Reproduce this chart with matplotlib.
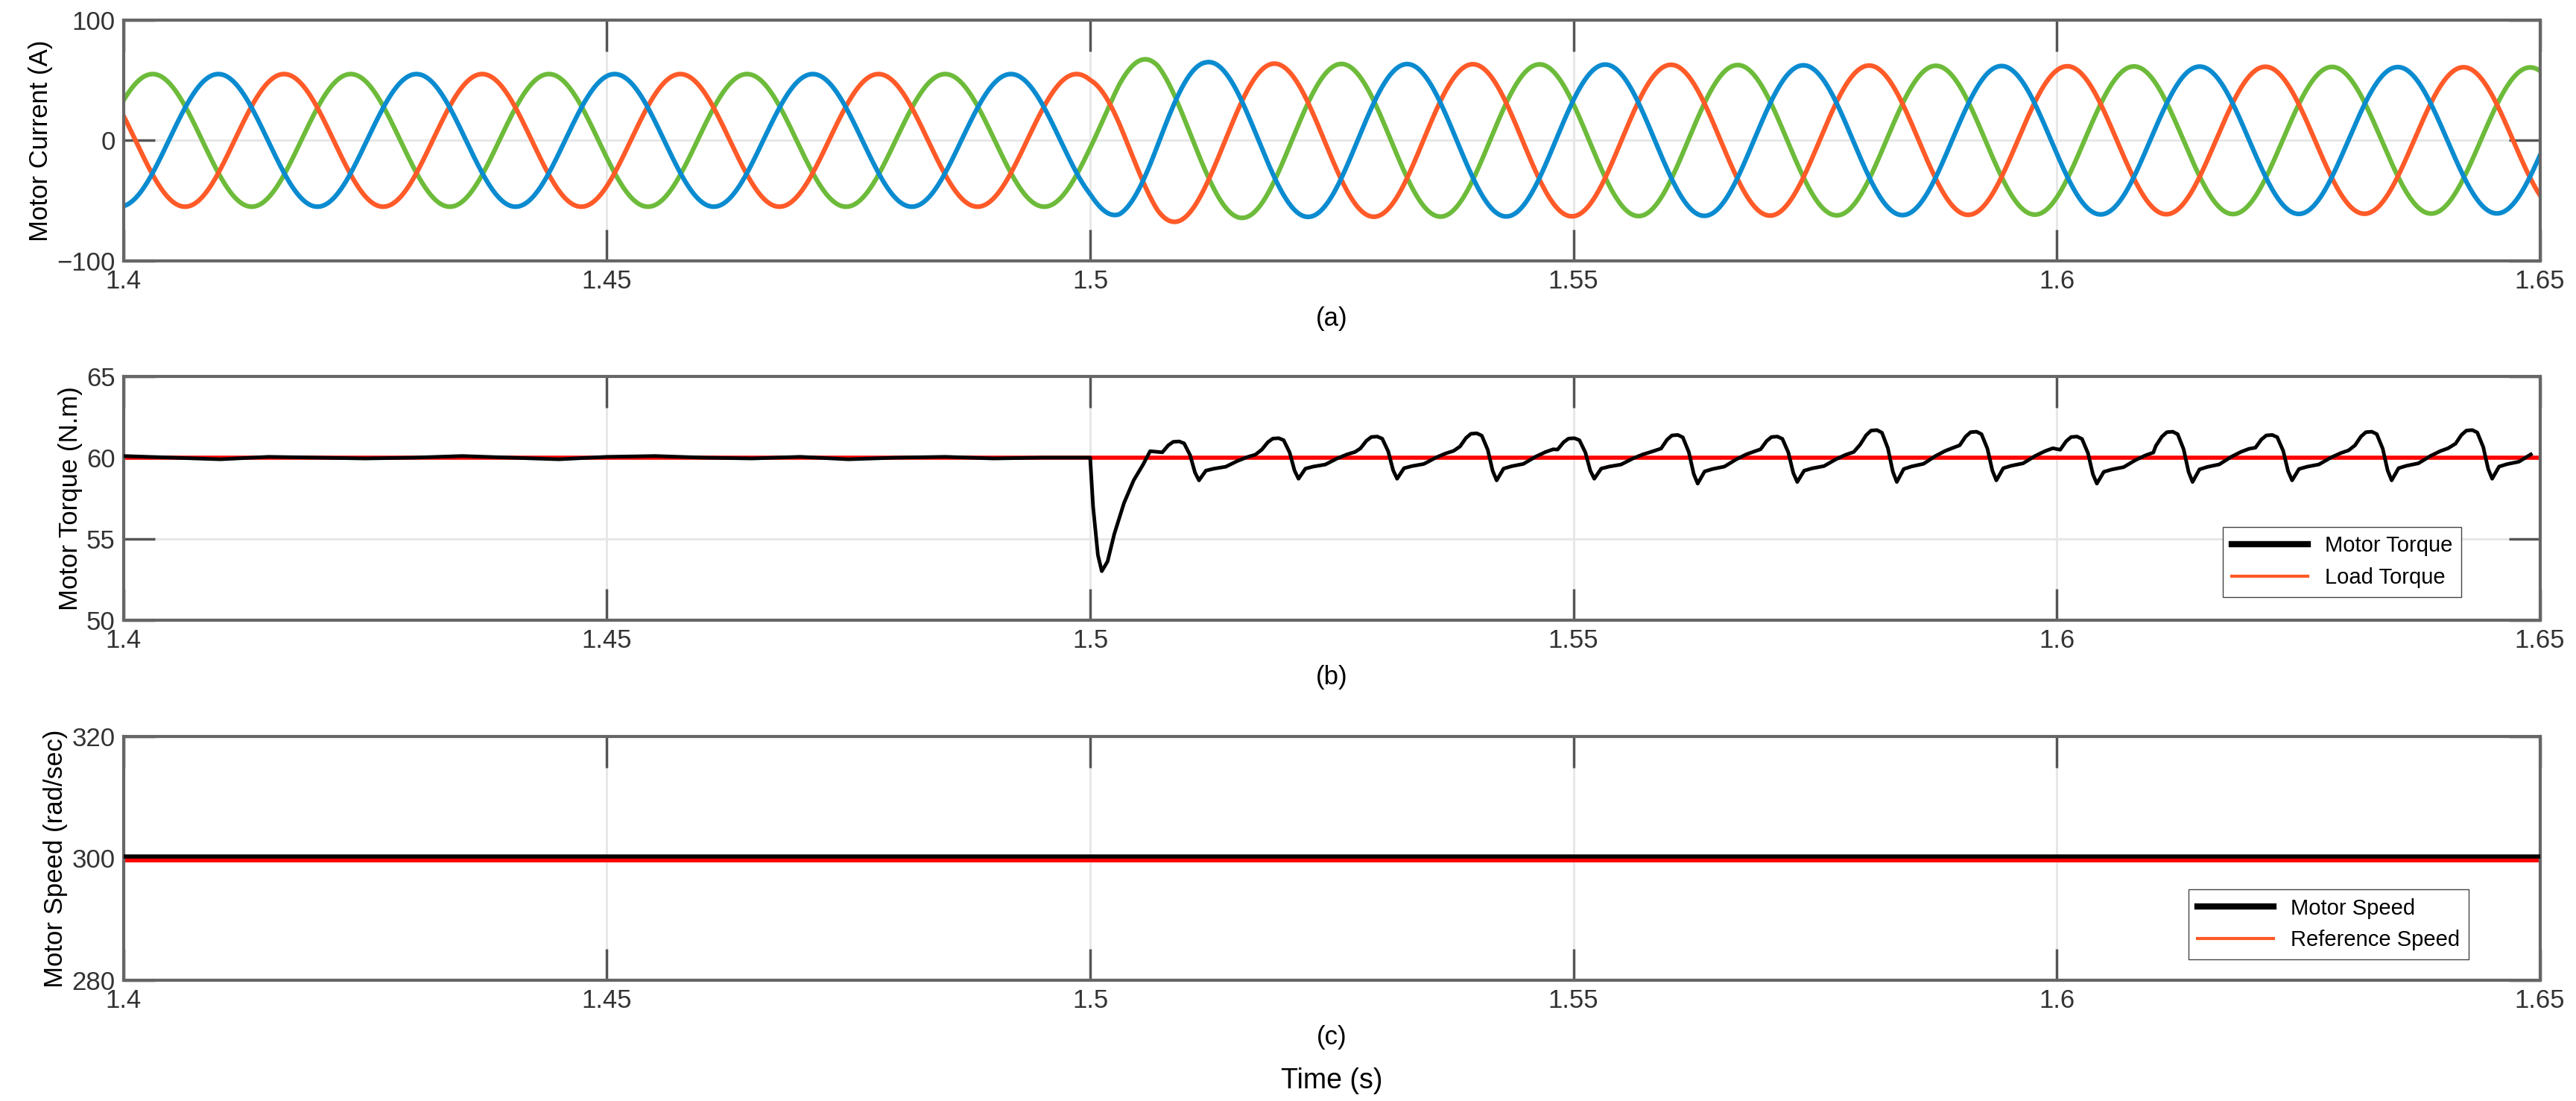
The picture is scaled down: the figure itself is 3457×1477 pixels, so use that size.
import matplotlib.pyplot as plt
import numpy as np

plt.rcParams['font.family'] = ['Liberation Sans', 'DejaVu Sans']

# ---- data ----
t_start, t_end = 1.4, 1.65
xticks = [1.4, 1.45, 1.5, 1.55, 1.6, 1.65]

# phase currents: period and peak times
cur_period = 0.0205
cur_peak_time = {'blue': 1.4098, 'orange': 1.4166, 'green': 1.4030}
cur_colors = {'blue': '#0a8bd0', 'orange': '#ff5a28', 'green': '#6dbb3a'}
# amplitude envelope (time, amplitude A)
env_t = [1.400, 1.500, 1.503, 1.507, 1.512, 1.520, 1.550, 1.600, 1.650]
env_a = [55.0, 55.0, 64.0, 69.0, 65.0, 63.5, 63.0, 61.5, 60.5]

# torque before the step (small ripple around 60)
tq_pre_t = [1.400, 1.405, 1.410, 1.415, 1.420, 1.425, 1.430, 1.435, 1.440, 1.445,
            1.450, 1.455, 1.460, 1.465, 1.470, 1.475, 1.480, 1.485, 1.490, 1.495, 1.4999]
tq_pre_v = [60.1, 60.0, 59.9, 60.05, 60.0, 59.95, 60.0, 60.1, 60.0, 59.9,
            60.05, 60.1, 60.0, 59.95, 60.05, 59.9, 60.0, 60.05, 59.95, 60.0, 60.0]
# torque dip right after the load step
tq_dip_t = [1.5000, 1.5003, 1.5008, 1.5012, 1.5018, 1.5025, 1.5035, 1.5045, 1.5055, 1.5062]
tq_dip_v = [60.0, 57.0, 54.0, 53.0, 53.6, 55.3, 57.2, 58.6, 59.6, 60.4]
# ripple cycles after the step: peak times and peak / trough values
tq_cycle_period = 0.01025
tq_peak_t = [1.5089, 1.5192, 1.5294, 1.5397, 1.5498, 1.5605, 1.5708, 1.5811,
             1.5914, 1.6018, 1.6117, 1.6220, 1.6323, 1.6427]
tq_peak_v = [61.0, 61.2, 61.3, 61.5, 61.2, 61.4, 61.3, 61.7, 61.6, 61.3, 61.6, 61.4, 61.6, 61.7]
tq_trough_v = [58.6, 58.7, 58.7, 58.6, 58.7, 58.4, 58.5, 58.5, 58.6, 58.4, 58.5, 58.6, 58.6, 58.7]
# one ripple cycle shape: phase offset (fraction of period) and level (0=trough, 1=peak)
shape_phase = [-0.14, -0.08, -0.03, 0.03, 0.08, 0.14, 0.19, 0.23, 0.30, 0.38, 0.50, 0.62, 0.72, 0.80]
shape_level = [0.72, 0.90, 0.99, 1.0, 0.95, 0.65, 0.20, 0.0, 0.25, 0.30, 0.35, 0.50, 0.60, 0.66]
load_torque = 60.0

speed_motor = 300.3
speed_ref = 299.9

# ---- figure ----
fig = plt.figure(figsize=(34.57, 14.77), dpi=100)
L, W = 0.048, 0.938
ax_a = fig.add_axes([L, 0.763, W, 0.219])
ax_b = fig.add_axes([L, 0.437, W, 0.221])
ax_c = fig.add_axes([L, 0.110, W, 0.221])

# (a) currents
t = np.linspace(t_start, t_end, 6000)
amp = np.interp(t, env_t, env_a)
for name in ['green', 'orange', 'blue']:
    y = amp * np.cos(2 * np.pi * (t - cur_peak_time[name]) / cur_period)
    ax_a.plot(t, y, color=cur_colors[name], lw=4.5)
ax_a.set_ylim(-100, 100)
ax_a.set_yticks([-100, 0, 100])
ax_a.set_ylabel('Motor Current (A)', fontsize=25)
ax_a.set_xlabel('(a)', fontsize=25, labelpad=12)

# (b) torque
tq_t = list(tq_pre_t) + list(tq_dip_t)
tq_v = list(tq_pre_v) + list(tq_dip_v)
for pt, pv, tv in zip(tq_peak_t, tq_peak_v, tq_trough_v):
    for ph, lv in zip(shape_phase, shape_level):
        tt = pt + ph * tq_cycle_period
        if tt > tq_t[-1] and tt <= t_end:
            tq_t.append(tt)
            tq_v.append(tv + lv * (pv - tv))
ax_b.plot([t_start, t_end], [load_torque, load_torque], color='red', lw=4, zorder=2)
ax_b.plot(tq_t, tq_v, color='black', lw=3.5, zorder=3)
ax_b.set_ylim(50, 65)
ax_b.set_yticks([50, 55, 60, 65])
ax_b.set_ylabel('Motor Torque (N.m)', fontsize=25)
ax_b.set_xlabel('(b)', fontsize=25, labelpad=12)
h1, = ax_b.plot([], [], color='black', lw=6)
h2, = ax_b.plot([], [], color='#ff5a28', lw=3)
ax_b.legend([h1, h2], ['Motor Torque', 'Load Torque'], loc='lower right',
            fontsize=21, fancybox=False, edgecolor='#444444', framealpha=1,
            bbox_to_anchor=(0.972, 0.05), handlelength=3.5)

# (c) speed
ax_c.plot([t_start, t_end], [speed_ref, speed_ref], color='red', lw=7, zorder=2)
ax_c.plot([t_start, t_end], [speed_motor, speed_motor], color='black', lw=4, zorder=3)
ax_c.set_ylim(280, 320)
ax_c.set_yticks([280, 300, 320])
ax_c.set_ylabel('Motor Speed (rad/sec)', fontsize=25)
ax_c.set_xlabel('(c)', fontsize=25, labelpad=12)
h1, = ax_c.plot([], [], color='black', lw=6)
h2, = ax_c.plot([], [], color='#ff5a28', lw=3)
ax_c.legend([h1, h2], ['Motor Speed', 'Reference Speed'], loc='lower right',
            fontsize=21, fancybox=False, edgecolor='#444444', framealpha=1,
            bbox_to_anchor=(0.975, 0.04), handlelength=3.5)
fig.text(L + W / 2, 0.006, 'Time (s)', ha='center', va='bottom', fontsize=27)

for ax in (ax_a, ax_b, ax_c):
    ax.set_xlim(t_start, t_end)
    ax.set_xticks(xticks)
    ax.set_xticklabels(['1.4', '1.45', '1.5', '1.55', '1.6', '1.65'])
    ax.grid(True, color='#e6e6e6', lw=2)
    ax.set_axisbelow(True)
    ax.tick_params(direction='in', length=30, width=2.5, color='#555555',
                   labelsize=25, labelcolor='#333333', top=True, right=True, pad=8)
    for s in ax.spines.values():
        s.set_color('#666666')
        s.set_linewidth(3)

fig.savefig('out.png', dpi=100)
